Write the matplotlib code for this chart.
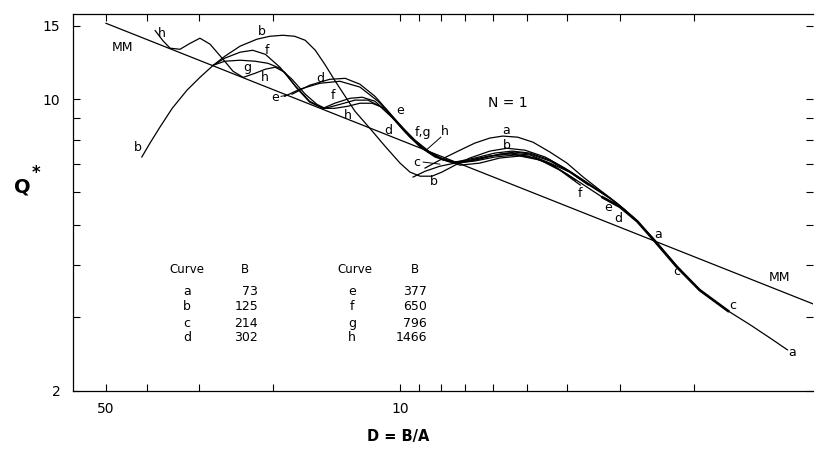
import matplotlib.pyplot as plt
from matplotlib.ticker import NullFormatter

# Q* against D = B/A, curves for N = 1
mm_D = [50, 1.04]
mm_Q = [15.2, 3.23]

a_D = [8.72, 8.04, 7.20, 6.64, 6.12, 5.70, 5.25, 4.83, 4.40, 4.01, 3.67, 3.35, 3.05, 2.79,
       2.48, 2.20, 1.94, 1.66, 1.47, 1.32, 1.20]
a_Q = [6.84, 7.15, 7.55, 7.85, 8.07, 8.16, 8.11, 7.89, 7.47, 7.03, 6.51, 6.06, 5.64, 5.22,
       4.60, 3.99, 3.49, 3.11, 2.88, 2.68, 2.51]

b_D = [41.1, 39.3, 37.2, 34.8, 32.1, 29.9, 27.8, 26.1, 24.0, 21.9, 20.4, 19.0, 17.8, 16.8,
       15.9, 15.1, 14.3, 13.5, 12.8, 11.8, 10.86, 10.0, 9.47, 8.96, 8.40, 7.95, 7.40, 6.82,
       6.12, 5.57, 5.05, 4.52, 4.06, 3.63, 3.26, 2.92, 2.69]
b_Q = [7.27, 7.85, 8.58, 9.51, 10.51, 11.28, 12.06, 12.67, 13.40, 13.92, 14.15, 14.23, 14.15, 13.84,
       13.10, 12.13, 11.10, 10.16, 9.36, 8.52, 7.72, 7.03, 6.69, 6.54, 6.54, 6.69, 6.95, 7.23,
       7.51, 7.63, 7.55, 7.27, 6.84, 6.36, 5.92, 5.43, 5.02]

c_D = [9.31, 8.72, 8.04, 7.40, 6.82, 6.12, 5.48, 4.97, 4.45, 4.01, 3.63, 3.30, 3.00, 2.73,
       2.48, 2.20, 1.94, 1.66]
c_Q = [6.51, 6.72, 6.91, 7.03, 7.15, 7.31, 7.39, 7.31, 7.03, 6.62, 6.20, 5.82, 5.52, 5.10,
       4.57, 3.97, 3.49, 3.11]

d_D = [18.06, 16.4, 14.7, 13.5, 12.45, 11.47, 10.57, 9.73, 8.96, 8.17, 7.40, 6.64, 5.95, 5.42,
       4.91, 4.40, 3.95, 3.53, 3.17, 2.92]
d_Q = [10.28, 10.80, 11.16, 11.22, 10.86, 10.16, 9.26, 8.38, 7.72, 7.27, 7.07, 7.23, 7.43, 7.51,
       7.43, 7.15, 6.72, 6.23, 5.79, 5.43]

e_D = [18.8, 17.3, 15.5, 13.9, 12.45, 11.28, 10.28, 9.31, 8.58, 7.91, 7.20, 6.46, 5.79, 5.33,
       4.91, 4.40, 3.95, 3.53, 3.17]
e_Q = [10.16, 10.57, 10.92, 11.04, 10.69, 9.89, 8.96, 8.02, 7.47, 7.15, 7.03, 7.19, 7.39, 7.47,
       7.39, 7.11, 6.69, 6.20, 5.79]

f_D = [27.8, 26.1, 24.0, 22.4, 20.9, 19.3, 17.8, 16.4, 15.25, 14.3, 13.15, 12.3, 11.47, 10.57,
       9.73, 8.96, 8.26, 7.61, 6.82, 6.12, 5.48, 4.91, 4.40, 3.95, 3.57]
f_Q = [12.06, 12.54, 12.96, 13.10, 12.81, 11.93, 10.80, 9.89, 9.51, 9.78, 10.05, 10.11, 9.89, 9.16,
       8.34, 7.68, 7.27, 7.07, 7.11, 7.31, 7.43, 7.35, 7.03, 6.69, 6.23]

g_D = [27.8, 26.1, 24.0, 22.1, 20.6, 19.3, 18.06, 16.8, 15.76, 15.08, 13.89, 12.8, 11.92, 11.16,
       10.28, 9.47, 8.72, 8.04, 7.40, 6.64, 5.95, 5.33, 4.78, 4.29, 3.83]
g_Q = [12.06, 12.33, 12.40, 12.33, 12.19, 11.86, 11.16, 10.28, 9.72, 9.51, 9.72, 9.95, 9.95, 9.62,
       8.91, 8.11, 7.55, 7.23, 7.03, 7.11, 7.27, 7.35, 7.23, 6.91, 6.40]

h_D = [38.2, 36.6, 35.2, 33.35, 31.6, 29.9, 28.3, 26.5, 24.95, 23.6, 22.1, 20.9, 19.8, 18.8,
       17.6, 16.4, 15.25, 14.3, 13.3, 12.45, 11.66, 10.86, 10.0, 9.21, 8.49, 7.82, 7.20, 6.46,
       5.79, 5.19, 4.65, 4.17, 3.73]
h_Q = [14.6, 13.8, 13.25, 13.17, 13.6, 14.0, 13.55, 12.55, 11.67, 11.28, 11.54, 11.8, 11.93, 11.6,
       10.63, 9.84, 9.51, 9.51, 9.62, 9.78, 9.78, 9.51, 8.67, 7.98, 7.47, 7.15, 6.95, 7.03,
       7.23, 7.31, 7.15, 6.76, 6.23]

# curve letters written along the curves: (text, D, Q)
curve_tags = [
    ("MM", 45.8, 13.3), ("MM", 1.25, 3.75), ("h", 36.8, 14.4), ("b", 21.3, 14.55),
    ("f", 20.7, 13.1), ("g", 23.1, 11.93), ("h", 20.94, 11.28), ("e", 19.8, 10.11),
    ("b", 42.0, 7.68), ("d", 15.5, 11.22), ("f", 14.4, 10.22), ("h", 13.3, 9.16),
    ("e", 10.0, 9.41), ("d", 10.68, 8.43), ("f,g", 8.81, 8.34), ("h", 7.82, 8.38),
    ("c", 9.11, 7.07), ("b", 8.31, 6.36), ("a", 5.6, 8.43), ("b", 5.57, 7.76),
    ("f", 3.73, 5.95), ("e", 3.21, 5.49), ("d", 3.03, 5.19), ("a", 2.44, 4.73),
    ("c", 2.20, 3.86), ("c", 1.62, 3.20), ("a", 1.17, 2.47),
]

table_curves = ["a", "b", "c", "d", "e", "f", "g", "h"]
table_B = ["73", "125", "214", "302", "377", "650", "796", "1466"]

fig = plt.figure(figsize=(8.15, 4.53), dpi=100)
ax = fig.add_axes([73 / 815, 62 / 453, 740 / 815, 377 / 453])
ax.set_xscale("log")
ax.set_yscale("log")

ax.plot(mm_D, mm_Q, color="black", lw=0.9)
for D, Q in [(a_D, a_Q), (b_D, b_Q), (c_D, c_Q), (d_D, d_Q), (e_D, e_Q),
             (f_D, f_Q), (g_D, g_Q), (h_D, h_Q)]:
    ax.plot(D, Q, color="black", lw=0.9)
# the a/c overlap on the way down reads as one heavy stroke
ax.plot(c_D[11:], c_Q[11:], color="black", lw=1.9)

for txt, D, Q in curve_tags:
    ax.text(D, Q, txt, fontsize=9, ha="center", va="center")

# little leader strokes from some of the letters
for (x0, y0), (x1, y1) in [((19.18, 10.16), (18.56, 10.22)),
                           ((8.81, 7.07), (8.04, 6.99)),
                           ((8.00, 8.11), (8.67, 7.55))]:
    ax.plot([x0, x1], [y0, y1], color="black", lw=0.7)

ax.text(5.54, 9.78, "N = 1", fontsize=10, ha="center", va="center")

# table of B values
ax.text(0.154, 0.321, "Curve", fontsize=8.5, ha="center", va="center", transform=ax.transAxes)
ax.text(0.232, 0.321, "B", fontsize=8.5, ha="center", va="center", transform=ax.transAxes)
ax.text(0.381, 0.321, "Curve", fontsize=8.5, ha="center", va="center", transform=ax.transAxes)
ax.text(0.462, 0.321, "B", fontsize=8.5, ha="center", va="center", transform=ax.transAxes)
rows_y = [0.263, 0.223, 0.180, 0.141]
for i in range(4):
    ax.text(0.154, rows_y[i], table_curves[i], fontsize=9, ha="center", va="center", transform=ax.transAxes)
    ax.text(0.25, rows_y[i], table_B[i], fontsize=9, ha="right", va="center", transform=ax.transAxes)
    ax.text(0.377, rows_y[i], table_curves[i + 4], fontsize=9, ha="center", va="center", transform=ax.transAxes)
    ax.text(0.478, rows_y[i], table_B[i + 4], fontsize=9, ha="right", va="center", transform=ax.transAxes)

ax.set_xlim(59.9, 1.043)
ax.set_ylim(2, 16)

ax.set_xticks([50, 10])
ax.set_xticklabels(["50", "10"])
ax.set_xticks([40, 30, 20, 9, 8, 7, 6, 5, 4, 3, 2], minor=True)
ax.xaxis.set_minor_formatter(NullFormatter())
ax.set_yticks([2, 10, 15])
ax.set_yticklabels(["2", "10", "15"])
ax.set_yticks([3, 4, 5, 6, 7, 8, 9], minor=True)
ax.yaxis.set_minor_formatter(NullFormatter())

ax.tick_params(which="both", direction="in", top=True, right=True, length=5, width=0.8, labelsize=10)
ax.tick_params(axis="x", pad=8)
ax.tick_params(axis="y", pad=9)
ax.spines["right"].set_visible(False)
for s in ["left", "bottom", "top"]:
    ax.spines[s].set_linewidth(0.9)

fig.text(22 / 815, 1 - 187 / 453, "Q", fontsize=14, fontweight="bold", ha="center", va="center")
fig.text(36 / 815, 1 - 173 / 453, "*", fontsize=12, fontweight="bold", ha="center", va="center")
fig.text(398 / 815, 1 - 437 / 453, "D = B/A", fontsize=10.5, fontweight="bold", ha="center", va="center")

fig.savefig("out.png", dpi=100)
